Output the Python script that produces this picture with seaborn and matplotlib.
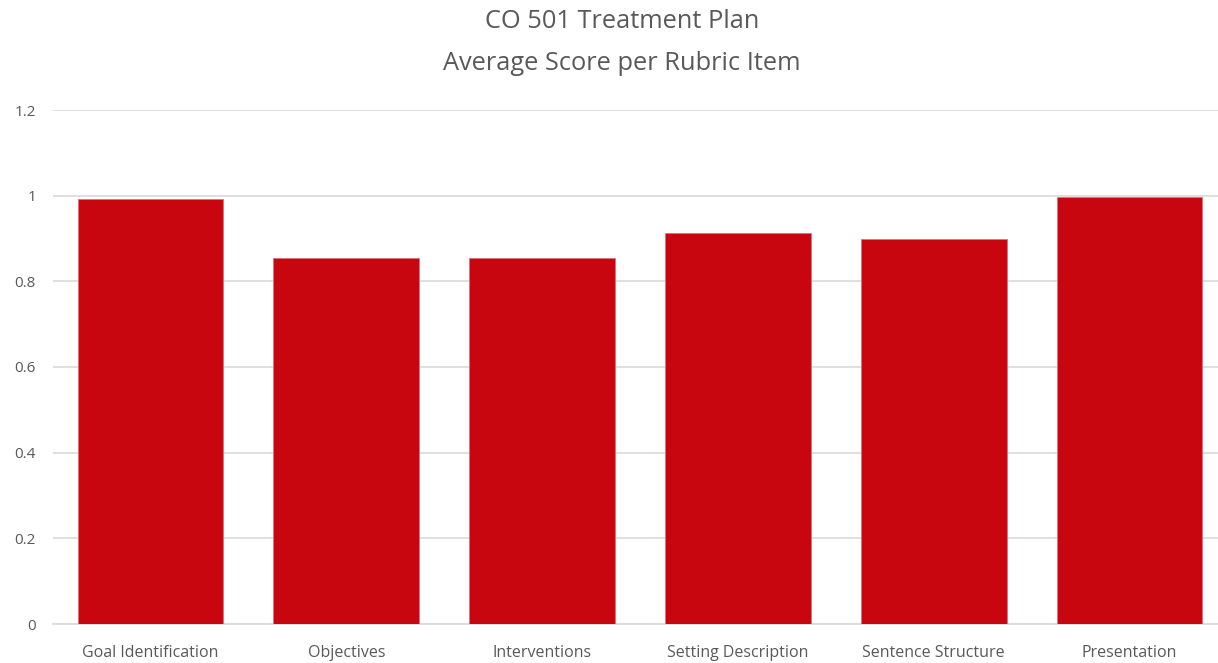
import matplotlib
matplotlib.use("Agg")
import matplotlib.pyplot as plt
import seaborn as sns
import pandas as pd

items = ["Goal Identification", "Objectives", "Interventions",
         "Setting Description", "Sentence Structure", "Presentation"]
scores = [0.993, 0.854, 0.854, 0.914, 0.898, 0.997]
yticks = [0, 0.2, 0.4, 0.6, 0.8, 1, 1.2]
ytick_labels = ["0", "0.2", "0.4", "0.6", "0.8", "1", "1.2"]

sns.set_theme(style="white")
plt.rcParams["font.family"] = ["Open Sans", "DejaVu Sans"]

df = pd.DataFrame({"item": items, "score": scores})

fig = plt.figure(figsize=(12.18, 6.63), dpi=100)
ax = fig.add_axes([52.6 / 1218, 39 / 663, 1 - 52.6 / 1218, 514 / 663])

sns.barplot(data=df, x="item", y="score", color="#C8060F", saturation=1,
            width=0.745, edgecolor="#E07078", linewidth=0.6, ax=ax, zorder=3)

ax.set_ylim(0, 1.2)
ax.set_xlim(-0.5, 5.452)
ax.set_yticks(yticks)
ax.set_yticklabels(ytick_labels)
ax.yaxis.grid(True, color="#D9D9D9", linewidth=1.2, zorder=0)
ax.set_axisbelow(True)
for s in ["top", "right", "left"]:
    ax.spines[s].set_visible(False)
ax.spines["bottom"].set_color("#D9D9D9")
ax.spines["bottom"].set_linewidth(1.2)
ax.tick_params(axis="y", length=0, pad=12, labelsize=11, labelcolor="#595959")
ax.tick_params(axis="x", length=0, pad=15, labelsize=11.5, labelcolor="#595959")
ax.set_xlabel("")
ax.set_ylabel("")

# two-line title, drawn as separate texts to match line spacing
fig.text(622 / 1218, 1 - 22 / 663, "CO 501 Treatment Plan", ha="center", va="center",
         fontsize=18.3, color="#595959")
fig.text(622 / 1218, 1 - 63 / 663, "Average Score per Rubric Item", ha="center",
         va="center", fontsize=18.3, color="#595959")

fig.savefig("out.png", dpi=100)
